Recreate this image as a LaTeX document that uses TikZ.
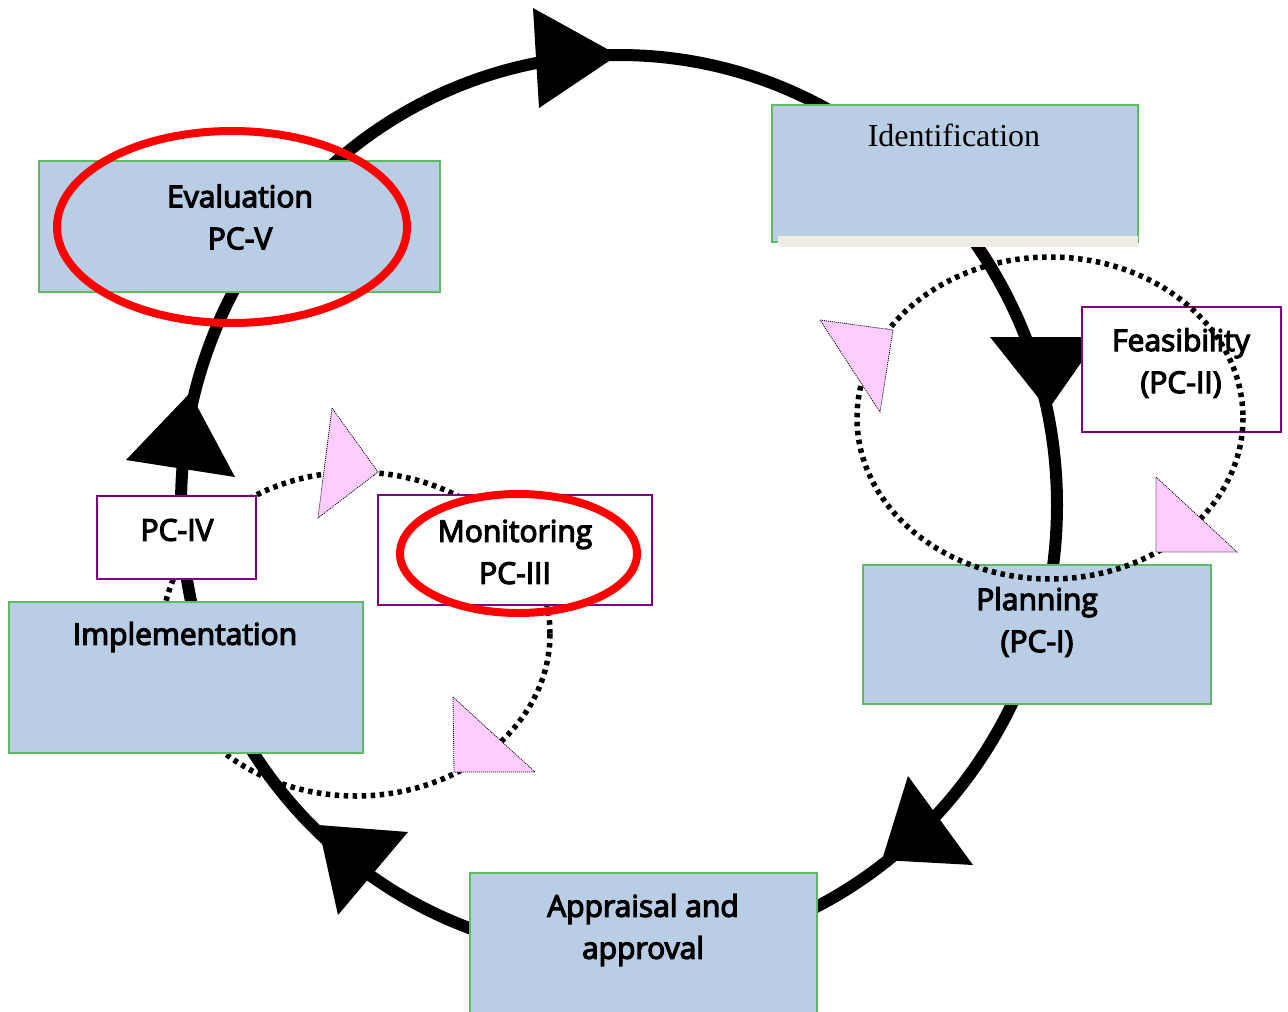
\documentclass[tikz,border=0pt]{standalone}
\usepackage{fontspec}
\newfontfamily\stagefont{Open Sans}[FakeBold=4]
\newfontfamily\serifid{Liberation Serif}
\begin{document}
\definecolor{boxblue}{HTML}{B9CDE5}
\definecolor{boxgreen}{HTML}{5DBB63}
\definecolor{pcpurple}{HTML}{800080}
\definecolor{arrowpink}{HTML}{FFCCFF}
\definecolor{stripbeige}{HTML}{EEECE1}
\begin{tikzpicture}[x=1pt,y=-1pt,
  stagebox/.style={draw=boxgreen, fill=boxblue, line width=2pt, inner sep=0pt, rectangle},
  pcbox/.style={draw=pcpurple, fill=white, line width=2pt, inner sep=0pt, rectangle},
  lbl/.style={font=\stagefont\fontsize{30}{42}\selectfont, align=center, inner sep=0pt},
  cycleline/.style={line width=12pt, draw=black},
  cyclehead/.style={fill=black},
  loopline/.style={line width=5.5pt, dash pattern=on 4.5pt off 4.5pt},
  pinkhead/.style={fill=arrowpink, draw=black, line width=0.8pt, dash pattern=on 1pt off 1pt},
  redring/.style={draw=red, line width=8pt}]
\useasboundingbox (0,0) rectangle (1288,1012);
\clip (0,0) rectangle (1288,1012);

% inner monitoring loop (behind the boxes)
\draw[loopline] (356,634) ellipse [x radius=194, y radius=162];

% main project cycle
\draw[cycleline] (619,505) ellipse [x radius=438, y radius=450];
\fill[cyclehead] (533,8) -- (618,55) -- (539,108) -- cycle;
\fill[cyclehead] (990,337) -- (1099,337) -- (1048,410) -- cycle;
\fill[cyclehead] (908,776) -- (973,865) -- (882,860) -- cycle;
\fill[cyclehead] (318,825) -- (408,832) -- (338,915) -- cycle;
\fill[cyclehead] (190,393) -- (235,477) -- (126,460) -- cycle;

% stage boxes
\node[stagebox, minimum width=401, minimum height=131] (eval) at (239.5,226.5) {};
\node[stagebox, minimum width=366, minimum height=137] (ident) at (955,173.5) {};
\fill[stripbeige] (778,236) rectangle (1138,247);
\node[pcbox, minimum width=199, minimum height=125] (feas) at (1181.5,369.5) {};
\node[stagebox, minimum width=348, minimum height=139] (plan) at (1037,634.5) {};
\node[stagebox, minimum width=347, minimum height=157] (appr) at (643.5,951.5) {};
\node[stagebox, minimum width=354, minimum height=151] (impl) at (186,677.5) {};
\node[pcbox, minimum width=159, minimum height=83] (pciv) at (176.5,537.5) {};
\node[pcbox, minimum width=274, minimum height=110] (moni) at (515,550) {};

% labels
\node[lbl] (evalT) at (240,217) {Evaluation\\PC-V};
\node[inner sep=0pt, font=\serifid\fontsize{32}{38}\selectfont] (identT) at (954,135) {Identification};
\node[lbl] (feasT) at (1181,363) {Feasibility\\(PC-II)};
\node[lbl] (planT) at (1037,622) {Planning\\(PC-I)};
\node[lbl] (apprT) at (643,930) {Appraisal and\\approval};
\node[lbl] (implT) at (185,637) {Implementation};
\node[lbl] (pcivT) at (177,530) {PC-IV};
\node[lbl] (moniT) at (515,552) {Monitoring\\PC-III};

% feasibility loop (in front of the boxes)
\draw[loopline] (1050,418) ellipse [x radius=193, y radius=161];
\filldraw[pinkhead] (820,320) -- (893,330) -- (880,412) -- cycle;
\filldraw[pinkhead] (1156,477) -- (1237,552) -- (1156,552) -- cycle;

% monitoring loop heads
\filldraw[pinkhead] (332,408) -- (378,472) -- (318,518) -- cycle;
\filldraw[pinkhead] (453,697) -- (535,772) -- (454,772) -- cycle;

% highlight rings
\draw[redring] (232,227) ellipse [x radius=175, y radius=96];
\draw[redring] (518.5,553.5) ellipse [x radius=118.5, y radius=59.5];
\end{tikzpicture}
\end{document}
